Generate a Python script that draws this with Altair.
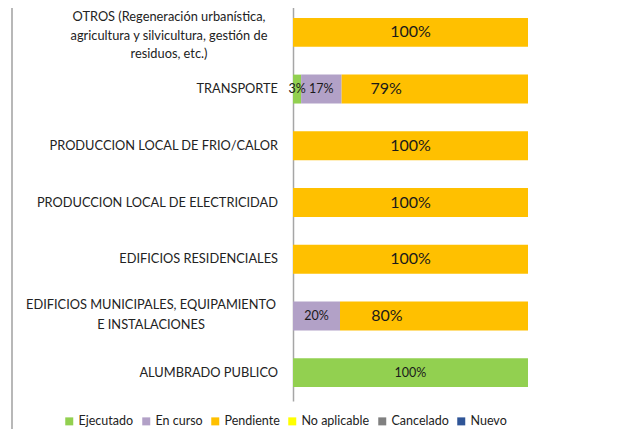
import altair as alt
import pandas as pd

categories = [
    "OTROS (Regeneración urbanística,|agricultura y silvicultura, gestión de|residuos, etc.)",
    "TRANSPORTE",
    "PRODUCCION LOCAL DE FRIO/CALOR",
    "PRODUCCION LOCAL DE ELECTRICIDAD",
    "EDIFICIOS RESIDENCIALES",
    "EDIFICIOS MUNICIPALES, EQUIPAMIENTO|E INSTALACIONES",
    "ALUMBRADO PUBLICO",
]
statuses = ["Ejecutado", "En curso", "Pendiente", "No aplicable", "Cancelado", "Nuevo"]
colors = ["#92D050", "#B2A1C7", "#FFC000", "#FFFF00", "#808080", "#2F5597"]

ejecutado = [0, 3.45, 0, 0, 0, 0, 100]
en_curso = [0, 17.24, 0, 0, 0, 20, 0]
pendiente = [100, 79.31, 100, 100, 100, 80, 0]

rows = []
for i, c in enumerate(categories):
    for s, vals in zip(statuses[:3], [ejecutado, en_curso, pendiente]):
        if vals[i] > 0:
            rows.append({"cat": c, "status": s, "value": vals[i], "order": statuses.index(s)})
df = pd.DataFrame(rows)

lab_df = pd.DataFrame({"cat": categories})

FONT = "Lato"
CAT_SIZE = 12.8

y_enc = alt.Y("cat:N", sort=categories,
              scale=alt.Scale(range=[-4, 393], paddingInner=0.49, paddingOuter=0.245),
              axis=alt.Axis(title=None, labels=False, ticks=False, domainColor="#A6A6A6",
                            domainWidth=1.5, grid=False))

base = alt.Chart(df)

bars = base.mark_bar(strokeWidth=0).encode(
    y=y_enc,
    x=alt.X("value:Q", stack="zero", scale=alt.Scale(domain=[0, 100], nice=False),
            axis=None),
    color=alt.Color("status:N", scale=alt.Scale(domain=statuses, range=colors),
                    legend=alt.Legend(title=None, orient="none", legendX=-230, legendY=407,
                                      direction="horizontal", symbolType="square",
                                      symbolSize=64, symbolStrokeWidth=0,
                                      labelFont=FONT, labelFontSize=12.5, labelColor="#222",
                                      columnPadding=6, symbolOffset=0, labelOffset=3,
                                      padding=0)),
    order=alt.Order("order:Q"),
)

def seg_text(filter_expr, size):
    return base.transform_filter(filter_expr).transform_stack(
        stack="value", groupby=["cat"], as_=["v0", "v1"],
        sort=[alt.SortField("order", order="ascending")]
    ).transform_calculate(
        mid="(datum.v0 + datum.v1) / 2",
        lbl="format(datum.value, '.0f') + '%'"
    ).mark_text(font=FONT, fontSize=size, color="#1a1a1a", baseline="middle").encode(
        y=alt.Y("cat:N", sort=categories),
        x=alt.X("mid:Q"),
        text="lbl:N",
    )

big_text = seg_text("datum.status == 'Pendiente'", 16)
small_text = seg_text("datum.status != 'Pendiente'", 12.5)

lab_base = alt.Chart(lab_df).transform_calculate(lines="split(datum.cat, '|')")

single = lab_base.transform_filter("indexof(datum.cat, '|') < 0").mark_text(
    font=FONT, fontSize=CAT_SIZE, align="right", baseline="middle", color="#222"
).encode(y=alt.Y("cat:N", sort=categories), x=alt.value(-15), text="lines:N")

otros = lab_base.transform_filter(alt.datum.cat == categories[0]).mark_text(
    font=FONT, fontSize=CAT_SIZE, align="center", baseline="middle", color="#222",
    lineHeight=18.5, dy=-15
).encode(y=alt.Y("cat:N", sort=categories), x=alt.value(-124), text="lines:N")

munic = lab_base.transform_filter(alt.datum.cat == categories[5]).mark_text(
    font=FONT, fontSize=CAT_SIZE, align="center", baseline="middle", color="#222",
    lineHeight=20, dy=-11
).encode(y=alt.Y("cat:N", sort=categories), x=alt.value(-142), text="lines:N")

frame = alt.Chart(pd.DataFrame({"a": [0]})).mark_rule(color="#A0A0A0", strokeWidth=1.5).encode(
    x=alt.value(-281), y=alt.value(-10), y2=alt.value(440)
)

chart = alt.layer(bars, big_text, small_text, single, otros, munic, frame).properties(
    width=235, height=392,
    autosize=alt.AutoSizeParams(type="none"),
    padding={"left": 285, "top": 0, "right": 82, "bottom": 29},
).configure_view(stroke=None)

chart.save("out.html", embed_options={"renderer": "svg", "actions": False})
